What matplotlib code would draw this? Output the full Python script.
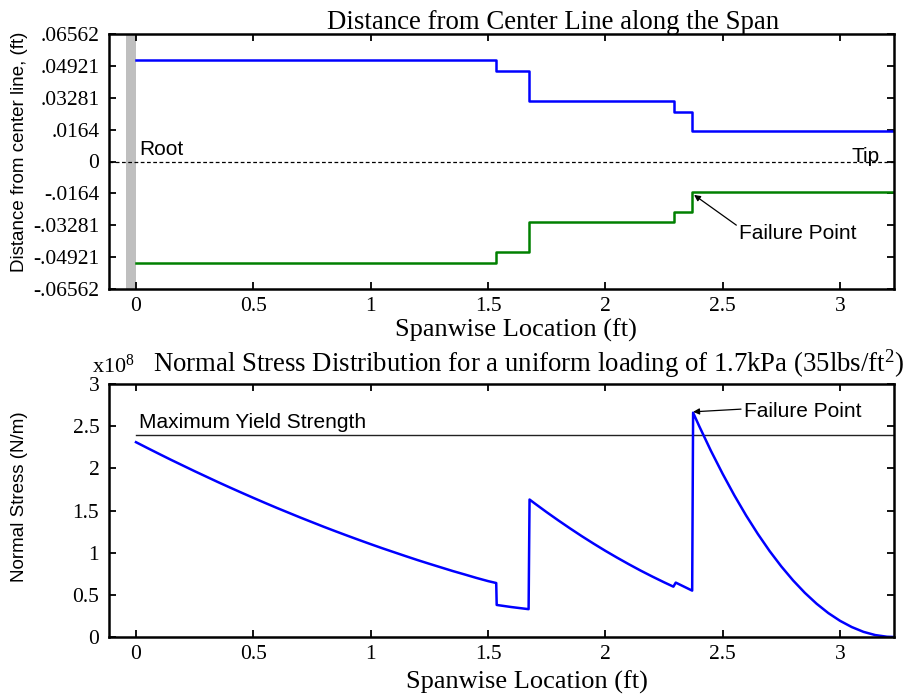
import numpy as np
import matplotlib
matplotlib.use("Agg")
import matplotlib.pyplot as plt

plt.rcParams['font.family'] = ['Liberation Serif', 'DejaVu Serif']
plt.rcParams['mathtext.fontset'] = 'custom'
plt.rcParams['mathtext.rm'] = 'Liberation Serif'
plt.rcParams['mathtext.default'] = 'regular'

SANS = ['Liberation Sans', 'DejaVu Sans']

# ---------------- data ----------------
# top panel: stepped thickness profile (ft)
step_x = [0.0, 1.535, 1.675, 2.293, 2.370, 3.23]
upper_dist = [0.0521, 0.0465, 0.0312, 0.0257, 0.0158]
lower_dist = [-0.0521, -0.0465, -0.0313, -0.0258, -0.0159]
dist_ticks = [-0.06562, -0.04921, -0.03281, -0.0164, 0, 0.0164, 0.03281, 0.04921, 0.06562]
dist_tick_labels = ['-.06562', '-.04921', '-.03281', '-.0164', '0', '.0164', '.03281', '.04921', '.06562']
root_band = [-0.043, 0.0]

# bottom panel: normal stress (x 1e8 N/m)
stress_x = [0.0, 0.05, 0.1, 0.15, 0.2, 0.25, 0.3, 0.35, 0.4, 0.45, 0.5, 0.55, 0.6, 0.65, 0.7, 0.75,
            0.8, 0.85, 0.9, 0.95, 1.0, 1.05, 1.1, 1.15, 1.2, 1.25, 1.3, 1.35, 1.4, 1.45, 1.5, 1.535,
            1.537, 1.6, 1.673,
            1.677, 1.7, 1.75, 1.8, 1.85, 1.9, 1.95, 2.0, 2.05, 2.1, 2.15, 2.2, 2.25, 2.29,
            2.30, 2.370,
            2.374, 2.4, 2.45, 2.5, 2.55, 2.6, 2.65, 2.7, 2.75, 2.8, 2.85, 2.9, 2.95,
            3.0, 3.05, 3.1, 3.15, 3.2, 3.23]
stress_val = [2.310, 2.239, 2.169, 2.100, 2.033, 1.966, 1.901, 1.836, 1.773, 1.711, 1.650, 1.590,
              1.531, 1.474, 1.417, 1.362, 1.307, 1.254, 1.202, 1.151, 1.101, 1.052, 1.005, 0.958,
              0.912, 0.868, 0.825, 0.782, 0.742, 0.701, 0.663, 0.640,
              0.38, 0.355, 0.33,
              1.630, 1.582, 1.480, 1.382, 1.287, 1.195, 1.107, 1.022, 0.941, 0.863, 0.788, 0.717,
              0.649, 0.597,
              0.645, 0.55,
              2.66, 2.50, 2.207, 1.934, 1.678, 1.440, 1.221, 1.019, 0.836, 0.671, 0.524, 0.395,
              0.284, 0.192, 0.118, 0.061, 0.023, 0.003, 0.0]
yield_strength = 2.40
stress_ticks = [0, 0.5, 1, 1.5, 2, 2.5, 3]
stress_tick_labels = ['0', '0.5', '1', '1.5', '2', '2.5', '3']

span_ticks = [0, 0.5, 1, 1.5, 2, 2.5, 3]
span_tick_labels = ['0', '0.5', '1', '1.5', '2', '2.5', '3']
xlim = (-0.115, 3.23)

# ---------------- figure ----------------
W, H = 905, 696
fig = plt.figure(figsize=(W / 100, H / 100), dpi=100)

def px_axes(l, t, r, b):
    return fig.add_axes([l / W, 1 - b / H, (r - l) / W, (b - t) / H])

ax1 = px_axes(109, 34, 894, 289)
ax2 = px_axes(109, 384, 894, 637)

def style(ax):
    for s in ax.spines.values():
        s.set_linewidth(1.8)
    ax.tick_params(direction='in', length=5, width=1.3, top=True, right=True,
                   labelsize=15.5, pad=7)
    ax.tick_params(axis='x', pad=6)
    ax.set_xlim(*xlim)
    ax.set_xticks(span_ticks)
    ax.set_xticklabels(span_tick_labels)

# top panel
style(ax1)
ax1.axvspan(root_band[0], root_band[1], color='#bfbfbf', lw=0)
ax1.step(step_x, upper_dist + [upper_dist[-1]], where='post', color='#0000ff', lw=1.8)
ax1.step(step_x, lower_dist + [lower_dist[-1]], where='post', color='#008000', lw=1.8)
ax1.axhline(0, color='black', lw=0.9, linestyle=(0, (3, 2)))
ax1.set_ylim(-0.06562, 0.06562)
ax1.set_yticks(dist_ticks)
ax1.set_yticklabels(dist_tick_labels)
ax1.text(0.012, 0.0012, 'Root', family=SANS, fontsize=15, va='bottom', ha='left')
ax1.text(3.05, 0.0, 'Tip', family=SANS, fontsize=15, va='baseline', ha='left')
ax1.annotate('Failure Point', xy=(2.378, -0.0172), xytext=(2.57, -0.0372),
             family=SANS, fontsize=15, va='center', ha='left',
             arrowprops=dict(arrowstyle='-|>', color='black', lw=0.9,
                             mutation_scale=9, shrinkA=0, shrinkB=0, relpos=(0.0, 0.85)))

# bottom panel
style(ax2)
ax2.plot([0, xlim[1]], [yield_strength, yield_strength], color='#222222', lw=1.0)
ax2.plot(stress_x, stress_val, color='#0000ff', lw=1.8)
ax2.set_ylim(0, 3)
ax2.set_yticks(stress_ticks)
ax2.set_yticklabels(stress_tick_labels)
ax2.text(0.012, yield_strength + 0.03, 'Maximum Yield Strength', family=SANS, fontsize=15,
         va='bottom', ha='left')
ax2.annotate('Failure Point', xy=(2.374, 2.67), xytext=(2.59, 2.67),
             family=SANS, fontsize=15, va='center', ha='left',
             arrowprops=dict(arrowstyle='-|>', color='black', lw=0.9,
                             mutation_scale=9, shrinkA=0, shrinkB=0, relpos=(0.0, 0.65)))

# titles and labels (figure pixel positions)
def ftext(x, y, s, **kw):
    fig.text(x / W, 1 - y / H, s, **kw)

ftext(553, 29, 'Distance from Center Line along the Span', fontsize=19.3, ha='center', va='baseline')
ftext(516, 330, 'Spanwise Location (ft)', fontsize=19, ha='center', va='center')
ftext(20, 152, 'Distance from center line, (ft)', family=SANS, fontsize=13.5,
      rotation=90, ha='center', va='center')

ftext(92, 373, r'x$10^{8}$', fontsize=16, ha='left', va='baseline')
ftext(153, 372, r'Normal Stress Distribution for a uniform loading of 1.7kPa (35lbs/ft$^{2}$)',
      fontsize=19.3, ha='left', va='baseline')
ftext(527, 682, 'Spanwise Location (ft)', fontsize=19, ha='center', va='center')
ftext(20, 497, 'Normal Stress (N/m)', family=SANS, fontsize=13.5,
      rotation=90, ha='center', va='center')

fig.savefig('out.png', dpi=100)
